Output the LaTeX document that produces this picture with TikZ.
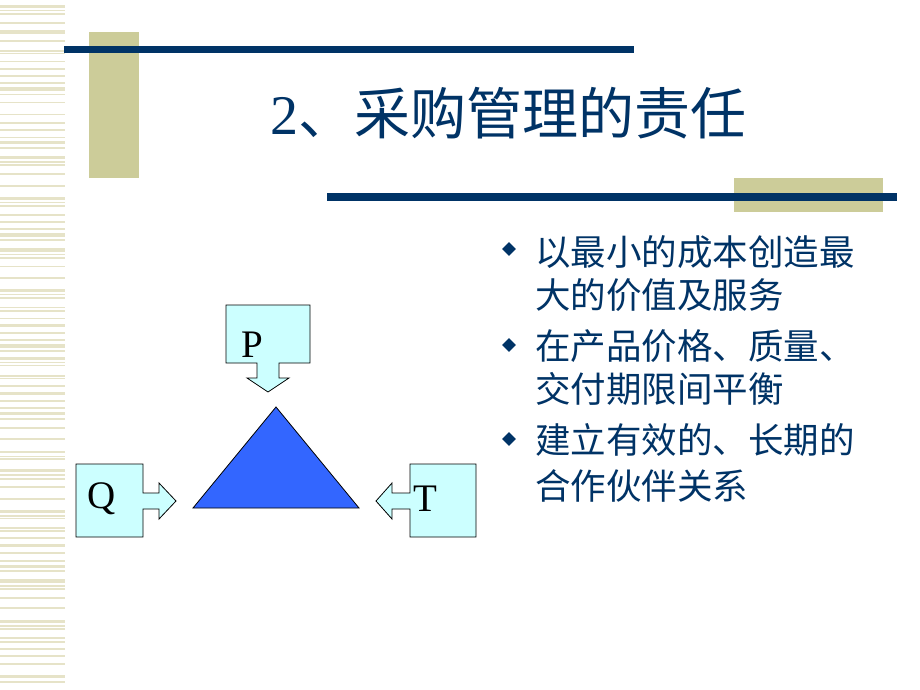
\documentclass[tikz,border=0pt]{standalone}
\usepackage{fontspec}
\setmainfont{Liberation Serif}
\newfontfamily\cjk{Noto Sans CJK SC}
\usetikzlibrary{shapes.geometric}
\definecolor{navy}{HTML}{003366}
\definecolor{olive}{HTML}{CCCC99}
\definecolor{stripe}{HTML}{E6E3C8}
\definecolor{cyanbox}{HTML}{CCFFFF}
\definecolor{triblue}{HTML}{3366FF}
\tikzset{
  band/.style={fill=olive},
  rule/.style={fill=navy},
  callout/.style={draw=black, line width=0.8pt, fill=cyanbox, line join=miter},
  letter/.style={inner sep=0pt, anchor=base, font=\fontsize{39}{39}\selectfont, text=black},
  bul/.style={diamond, fill=navy, inner sep=0pt, minimum width=14pt, minimum height=14pt},
  txt/.style={inner sep=0pt, anchor=base west, text=navy, font=\cjk\fontsize{35.5}{43}\selectfont},
}
\begin{document}
\begin{tikzpicture}[x=1pt,y=-1pt]
\useasboundingbox (0,0) rectangle (920,690);
\fill[white] (0,0) rectangle (920,690);
% left stripes
\foreach \a/\b in {5/8, 10/11, 13/15, 22/24, 30/34, 40/42, 50/52, 53/54.5, 61/62.5, 68/70, 75/77, 82.5/84, 87/91, 94/95.5, 102/103.5, 114/115.5, 122/124, 129/131, 136.5/138, 141/144, 147/148.5, 156/159, 161/163, 164/166, 173/174.5, 185/187, 197/200, 202/203, 205/207, 214/216, 221/223, 228/229.5, 233/237, 239/241, 248/252, 254/255, 257/258.5, 265.5/267, 277/278.5, 289/292, 294/295, 297/298.5, 306.5/308, 310/312, 317.5/319, 324/327, 332/333.5, 339/340.5, 344/348, 350/352, 357/360, 362/363, 365/366, 375/377, 378/379, 385/386.5, 392/395, 400/402, 407/408.5, 412/415, 418/419.5, 427/428.5, 438/439.5, 451/453, 456/457, 458/460, 469/472, 474/475.5, 478/479.5, 486/487.5, 498/499.5, 510/513, 515/517, 517.5/519, 527/528.5, 530/532, 537/538.5, 544/547, 552/553.5, 560/562, 565/568, 570/572, 579/583, 585/587, 588/589.5, 597/598.5, 607/609, 620/623, 625/627, 628/630, 637/639, 641/643, 648/650, 655/657, 663/665, 675/678, 681/683}
  \fill[stripe] (0,\a) rectangle (65,\b);
% decorative bands and rules
\fill[band] (89,32) rectangle (139,178);
\fill[rule] (64,46) rectangle (634,53);
\fill[band] (734,178) rectangle (883,212);
\fill[rule] (327,193) rectangle (897,201);
% title
\node[inner sep=0pt, anchor=base west, text=navy, font=\fontsize{56}{56}\selectfont] (title) at (270,135) {2{\cjk 、采购管理的责任}};
% bullets
\node[bul] (b1) at (509,249) {};
\node[bul] (b2) at (509,345) {};
\node[bul] (b3) at (509,439) {};
\node[txt] (t1a) at (535,265) {以最小的成本创造最};
\node[txt] (t1b) at (535,308) {大的价值及服务};
\node[txt] (t2a) at (535,359) {在产品价格、质量、};
\node[txt] (t2b) at (535,402) {交付期限间平衡};
\node[txt] (t3a) at (535,453) {建立有效的、长期的};
\node[txt] (t3b) at (535,499) {合作伙伴关系};
% P callout
\draw[callout] (226,305) -- (310,305) -- (310,363) -- (279,363) -- (279,378) -- (289,378) -- (268,392) -- (247,378) -- (257,378) -- (257,363) -- (226,363) -- cycle;
% Q callout
\draw[callout] (76,464) -- (143,464) -- (143,493) -- (159,493) -- (159,483) -- (176,501) -- (159,519) -- (159,509) -- (143,509) -- (143,537) -- (76,537) -- cycle;
% T callout
\draw[callout] (476,464) -- (410,464) -- (410,493) -- (392,493) -- (392,483) -- (376,501) -- (392,519) -- (392,509) -- (410,509) -- (410,537) -- (476,537) -- cycle;
% triangle
\draw[fill=triblue, draw=black, line width=0.8pt, line join=miter] (276,407) -- (359,508) -- (193,508) -- cycle;
% letters
\node[letter] (P) at (252,357) {P};
\node[letter] (Q) at (102,508) {Q};
\node[letter] (T) at (425,511) {T};
\end{tikzpicture}
\end{document}
